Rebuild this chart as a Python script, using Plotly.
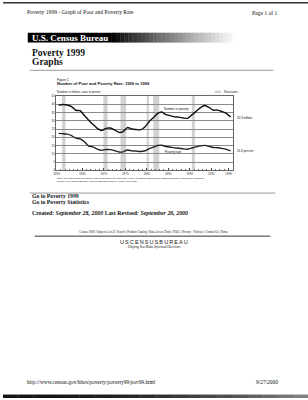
import plotly.graph_objects as go

# ---------------- data ----------------
years = list(range(1959, 2000))
number_poor = [39.5, 39.9, 39.6, 38.6, 36.4, 36.1, 33.2, 30.4, 27.8, 25.4,
               24.1, 25.4, 25.6, 24.5, 23.0, 23.4, 25.9, 25.0, 24.7, 24.5,
               26.1, 29.3, 31.8, 34.4, 35.3, 33.7, 33.1, 32.4, 32.2, 31.7,
               31.5, 33.6, 35.7, 38.0, 39.3, 38.1, 36.4, 36.5, 35.6, 34.5, 32.3]
poverty_rate = [22.4, 22.2, 21.9, 21.0, 19.5, 19.0, 17.3, 14.7, 14.2, 12.8,
                12.1, 12.6, 12.5, 11.9, 11.1, 11.2, 12.3, 11.8, 11.6, 11.4,
                11.7, 13.0, 14.0, 15.0, 15.2, 14.4, 14.0, 13.6, 13.4, 13.0,
                12.8, 13.5, 14.2, 14.8, 15.1, 14.5, 13.8, 13.7, 13.3, 12.7, 11.8]
recession_start = [1960.3, 1969.9, 1973.9, 1980.0, 1981.5, 1990.5]
recession_end = [1961.1, 1970.9, 1975.2, 1980.5, 1982.9, 1991.2]
x_tick_years = [1959, 1965, 1970, 1975, 1980, 1985, 1990, 1995, 1999]
y_ticks = [0, 5, 10, 15, 20, 25, 30, 35, 40, 45]

W, H = 308, 400
def X(px):
    return px / W
def Y(py):
    return 1 - py / H

SERIF = "Liberation Serif"
SANS = "Liberation Sans"

# data plotted at the midpoint of each year
x_mid = [y + 0.5 for y in years]

fig = go.Figure()
fig.add_trace(go.Scatter(x=x_mid, y=number_poor, mode="lines",
                         line=dict(color="#111", width=1.4, shape="spline", smoothing=0.6),
                         hoverinfo="skip", showlegend=False))
fig.add_trace(go.Scatter(x=x_mid, y=poverty_rate, mode="lines",
                         line=dict(color="#222", width=1.4, shape="spline", smoothing=0.6),
                         hoverinfo="skip", showlegend=False))

shapes = []
# recessions
for s, e in zip(recession_start, recession_end):
    shapes.append(dict(type="rect", xref="x", yref="y", x0=s, x1=e, y0=0, y1=45,
                       fillcolor="#d2d2d2", line=dict(width=0), layer="below"))

# top scan edge
shapes.append(dict(type="rect", xref="paper", yref="paper", x0=0, x1=1,
                   y0=Y(1.5), y1=Y(0), fillcolor="#333", line=dict(width=0)))
# black gradient bar
shapes.append(dict(type="rect", xref="paper", yref="paper", x0=X(25), x1=X(110),
                   y0=Y(41), y1=Y(31), fillcolor="#000", line=dict(width=0)))
n = 30
for i in range(n):
    a = 110 + (235 - 110) * i / n
    b = 110 + (235 - 110) * (i + 1) / n
    g = int(255 * ((i + 0.5) / n) ** 0.9)
    shapes.append(dict(type="rect", xref="paper", yref="paper", x0=X(a), x1=X(b) + 0.001,
                       y0=Y(41), y1=Y(31), fillcolor=f"rgb({g},{g},{g})", line=dict(width=0)))
# rules
shapes.append(dict(type="line", xref="paper", yref="paper", x0=X(27), x1=X(273),
                   y0=Y(69), y1=Y(69), line=dict(color="#9a9a9a", width=1)))
shapes.append(dict(type="line", xref="paper", yref="paper", x0=X(27), x1=X(275),
                   y0=Y(193), y1=Y(193), line=dict(color="#9a9a9a", width=1)))
shapes.append(dict(type="line", xref="paper", yref="paper", x0=X(32), x1=X(270),
                   y0=Y(236.5), y1=Y(236.5), line=dict(color="#333", width=1)))
# legend swatch
shapes.append(dict(type="rect", xref="paper", yref="paper", x0=X(214), x1=X(220),
                   y0=Y(92), y1=Y(89.5), fillcolor="#d2d2d2", line=dict(width=0)))
# bottom scan edge
for i in range(20):
    a = W * i / 20
    b = W * (i + 1) / 20
    g = int(20 + 120 * (i / 20) ** 2)
    shapes.append(dict(type="rect", xref="paper", yref="paper", x0=X(a), x1=X(b) + 0.001,
                       y0=0, y1=Y(396.5), fillcolor=f"rgb({g},{g},{g})", line=dict(width=0)))

ann = []
def txt(text, x, y, size, family=SERIF, color="#111", xanchor="left"):
    ann.append(dict(text=text, x=X(x), y=Y(y), xref="paper", yref="paper",
                    xanchor=xanchor, yanchor="middle", showarrow=False,
                    font=dict(family=family, size=size, color=color)))

txt("Poverty 1999 - Graph of Poor and Poverty Rate", 22, 9.7, 5.6)
txt("Page 1 of 1", 249, 11, 5.6)
txt("<b>U.S. Census Bureau</b>", 27, 36, 9, color="#fff")
txt("<b>Poverty 1999</b>", 27, 51.7, 9.5)
txt("<b>Graphs</b>", 27, 60.7, 9.5)

txt("Figure 1.", 53, 78.5, 3.2, family=SANS)
txt("<b>Number of Poor and Poverty Rate: 1959 to 1999</b>", 53, 82.7, 4.1, family=SANS)
txt("Numbers in millions, rates in percent", 53, 90.7, 2.7, family=SANS)
txt("Recessions", 221, 90.7, 2.7, family=SANS)
txt("Number in poverty", 175, 108, 3.0, family=SANS, xanchor="center")
txt("Poverty rate", 172, 151.7, 3.0, family=SANS, xanchor="center")
txt(f"{number_poor[-1]} million", 234, 117, 3.0, family=SANS)
txt(f"{poverty_rate[-1]} percent", 234, 151, 3.0, family=SANS)
txt("Note: The data points are placed at the midpoints of the respective years. Recession data from the National Bureau of Economic Research.",
    53, 178.3, 2.4, family=SANS)
txt("Source: U.S. Census Bureau, Current Population Survey, March 1960-2000.", 53, 181.2, 2.4, family=SANS)

txt("<b>Go to Poverty 1999</b>", 27, 196, 5.7)
txt("<b>Go to Poverty Statistics</b>", 27, 202.3, 5.7)
txt("<b>Created: <i>September 28, 2000</i> Last Revised: <i>September 26, 2000</i></b>", 27, 213.3, 5.9)
txt("Census 2000 | Subjects A to Z | Search | Product Catalog | Data Access Tools | FOIA | Privacy \u00b7 Policies | Contact Us | Home",
    152, 232.3, 3.0, xanchor="center")
txt("U\u2009S\u2009C\u2009E\u2009N\u2009S\u2009U\u2009S\u2009B\u2009U\u2009R\u2009E\u2009A\u2009U", 152, 242.3, 5.5,
    family=SANS, xanchor="center")
txt("<i>Helping You Make Informed Decisions</i>", 152, 247.3, 3.4, xanchor="center")

txt("http://www.census.gov/hhes/poverty/poverty99/pov99.html", 22, 384, 5.4)
txt("9/27/2000", 253, 384, 5.4)

fig.update_layout(
    width=W, height=H, margin=dict(l=0, r=0, t=0, b=0),
    paper_bgcolor="#fff", plot_bgcolor="#fff",
    shapes=shapes, annotations=ann, showlegend=False,
    xaxis=dict(domain=[X(54), X(232)], range=[1959, 2000],
               tickvals=x_tick_years, ticktext=[str(v) for v in x_tick_years],
               ticks="inside", ticklen=2, tickcolor="#444",
               minor=dict(dtick=1, tick0=1959, ticks="inside", ticklen=1.2, tickcolor="#666"),
               tickfont=dict(family=SANS, size=3.0, color="#333"),
               showgrid=False, zeroline=False,
               showline=True, linecolor="#666", linewidth=1, mirror=True),
    yaxis=dict(domain=[Y(170), Y(95)], range=[0, 45],
               tickvals=y_ticks, ticks="", tickfont=dict(family=SANS, size=3.0, color="#333"),
               showgrid=True, gridcolor="#8a8a8a", gridwidth=1,
               zeroline=False, showline=True, linecolor="#666", linewidth=1, mirror=True),
)

fig.write_html("out.html")
